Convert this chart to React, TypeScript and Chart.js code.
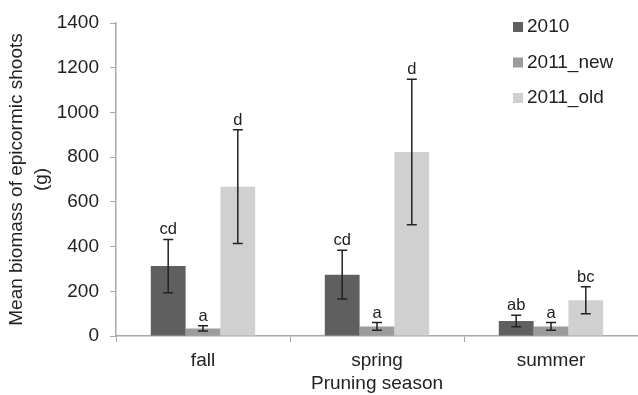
import React, { useEffect, useRef } from "react";
import { Chart, registerables } from "chart.js";

Chart.register(...registerables);

const categories = ["fall", "spring", "summer"];
const seriesLabels = ["2010", "2011_new", "2011_old"];
const mean2010 = [313, 274, 67];
const err2010 = [119, 109, 26];
const mean2011New = [34, 43, 43];
const err2011New = [12, 17, 17];
const mean2011Old = [668, 823, 160];
const err2011Old = [254, 325, 60];
const letters2010 = ["cd", "cd", "ab"];
const letters2011New = ["a", "a", "a"];
const letters2011Old = ["d", "d", "bc"];
const colors = ["#5f5f5f", "#9c9c9c", "#d0d0d0"];

const FONT = "'Liberation Sans', Arial, sans-serif";

export default function App() {
  const ref = useRef<HTMLCanvasElement | null>(null);

  useEffect(() => {
    if (!ref.current) return;
    const errs = [err2010, err2011New, err2011Old];
    const letters = [letters2010, letters2011New, letters2011Old];

    const errPlugin = {
      id: "errbars",
      afterDatasetsDraw(chart: any) {
        const ctx = chart.ctx;
        const y = chart.scales.y;
        ctx.save();
        chart.data.datasets.forEach((ds: any, i: number) => {
          const meta = chart.getDatasetMeta(i);
          meta.data.forEach((bar: any, j: number) => {
            const v = ds.data[j];
            const e = errs[i][j];
            const top = y.getPixelForValue(v + e);
            const bot = y.getPixelForValue(v - e);
            const x = bar.x;
            ctx.strokeStyle = "#222";
            ctx.lineWidth = 1.5;
            ctx.beginPath();
            ctx.moveTo(x, top);
            ctx.lineTo(x, bot);
            ctx.moveTo(x - 5, top);
            ctx.lineTo(x + 5, top);
            ctx.moveTo(x - 5, bot);
            ctx.lineTo(x + 5, bot);
            ctx.stroke();
            ctx.fillStyle = "#222";
            ctx.font = `16.5px ${FONT}`;
            ctx.textAlign = "center";
            ctx.textBaseline = "alphabetic";
            ctx.fillText(letters[i][j], x, top - 5);
          });
        });
        ctx.restore();
      },
    };

    const legendPlugin = {
      id: "customLegend",
      afterDraw(chart: any) {
        const ctx = chart.ctx;
        ctx.save();
        chart.data.datasets.forEach((ds: any, i: number) => {
          const cy = 27 + i * 35.5;
          ctx.fillStyle = ds.backgroundColor;
          ctx.fillRect(513, cy - 5, 10, 10);
          ctx.fillStyle = "#222";
          ctx.font = `19px ${FONT}`;
          ctx.textAlign = "left";
          ctx.textBaseline = "middle";
          ctx.fillText(ds.label, 527, cy);
        });
        ctx.restore();
      },
    };

    const chart = new Chart(ref.current, {
      type: "bar",
      data: {
        labels: categories,
        datasets: [
          { label: seriesLabels[0], data: mean2010, backgroundColor: colors[0] },
          { label: seriesLabels[1], data: mean2011New, backgroundColor: colors[1] },
          { label: seriesLabels[2], data: mean2011Old, backgroundColor: colors[2] },
        ],
      },
      options: {
        responsive: false,
        animation: false,
        layout: { padding: { top: 23, right: 0, bottom: 0, left: 0 } },
        datasets: { bar: { barPercentage: 1, categoryPercentage: 0.6 } },
        plugins: { legend: { display: false }, tooltip: { enabled: false } },
        scales: {
          x: {
            grid: { display: true, drawOnChartArea: false, tickLength: 6, color: "#a8a8a8", offset: true },
            border: { color: "#a8a8a8", width: 1.5 },
            ticks: { color: "#222", font: { family: FONT, size: 19 }, padding: 7 },
            title: {
              display: true,
              text: "Pruning season",
              color: "#222",
              font: { family: FONT, size: 19, lineHeight: 1.2 },
              padding: { top: 0, bottom: 0 },
            },
            afterFit(scale: any) {
              scale.height = 59;
            },
          },
          y: {
            min: 0,
            max: 1400,
            grid: { display: true, drawOnChartArea: false, tickLength: 6, color: "#a8a8a8" },
            border: { color: "#a8a8a8", width: 1.5 },
            ticks: {
              stepSize: 200,
              color: "#222",
              font: { family: FONT, size: 19 },
              padding: 11,
              callback: (v: any) => String(v),
            },
            title: {
              display: true,
              text: ["Mean biomass of epicormic shoots", "(g)"],
              color: "#222",
              font: { family: FONT, size: 19, lineHeight: 1.33 },
              padding: { top: 4, bottom: 0 },
            },
            afterFit(scale: any) {
              scale.width = 116;
            },
          },
        },
      },
      plugins: [errPlugin, legendPlugin],
    });
    return () => chart.destroy();
  }, []);

  return (
    <div style={{ position: "fixed", left: 0, top: 0, width: 638, height: 395, background: "#fff" }}>
      <canvas ref={ref} width={638} height={395} />
    </div>
  );
}
